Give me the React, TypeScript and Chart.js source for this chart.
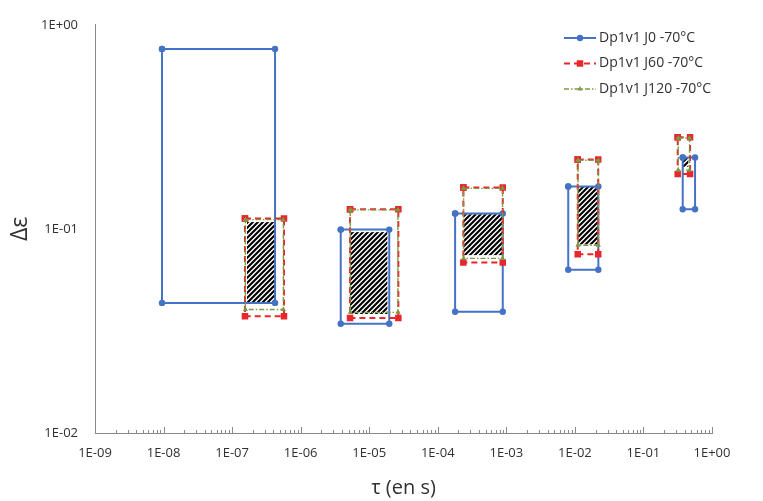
import React, { useEffect, useRef } from 'react';
import { Chart, registerables } from 'chart.js';

Chart.register(...registerables);

// ---------------- data ----------------
const seriesLabels = ['Dp1v1 J0 -70°C', 'Dp1v1 J60 -70°C', 'Dp1v1 J120 -70°C'];

// J0 boxes (tau in s, delta epsilon)
const j0TauMin = [9.5e-9, 3.84e-6, 1.79e-4, 8.0e-3, 0.374];
const j0TauMax = [4.23e-7, 1.96e-5, 8.87e-4, 2.2e-2, 0.566];
const j0EpsMin = [0.0434, 0.0343, 0.0393, 0.0631, 0.1248];
const j0EpsMax = [0.762, 0.0992, 0.119, 0.1615, 0.2236];

// J60 boxes
const j60TauMin = [1.54e-7, 5.25e-6, 2.36e-4, 1.1e-2, 0.316];
const j60TauMax = [5.71e-7, 2.66e-5, 8.87e-4, 2.19e-2, 0.479];
const j60EpsMin = [0.0373, 0.0366, 0.0684, 0.0752, 0.186];
const j60EpsMax = [0.1123, 0.1248, 0.1597, 0.2188, 0.281];

// J120 boxes
const j120TauMin = [1.56e-7, 5.3e-6, 2.38e-4, 1.11e-2, 0.322];
const j120TauMax = [5.6e-7, 2.62e-5, 8.8e-4, 2.2e-2, 0.47];
const j120EpsMin = [0.0403, 0.039, 0.0717, 0.0831, 0.194];
const j120EpsMax = [0.111, 0.124, 0.158, 0.217, 0.279];

// hatched (common) regions
const hatchTauMin = [1.65e-7, 5.25e-6, 2.38e-4, 1.1e-2, 0.376];
const hatchTauMax = [4.23e-7, 1.84e-5, 8.87e-4, 2.2e-2, 0.452];
const hatchEpsMin = [0.0434, 0.0383, 0.0744, 0.084, 0.2015];
const hatchEpsMax = [0.108, 0.0964, 0.118, 0.1615, 0.222];

// axis ticks (powers of ten)
const xTickExponents = [-9, -8, -7, -6, -5, -4, -3, -2, -1, 0];
const yTickExponents = [-2, -1, 0];
const minorMultipliers = [2, 3, 4, 5, 6, 7, 8, 9];

// ---------------- styles ----------------
const FONT = '"Open Sans", "Noto Sans", sans-serif';
const AXIS_COLOR = '#898989';
const TEXT_COLOR = '#303030';

type SeriesStyle = { color: string; width: number; dash: number[]; point: string; radius: number };
const seriesStyles: SeriesStyle[] = [
  { color: '#4472C4', width: 2, dash: [], point: 'circle', radius: 3.2 },
  { color: '#E8262B', width: 2, dash: [6, 4], point: 'rect', radius: 4.6 },
  { color: '#7C9A42', width: 1.4, dash: [5, 2, 1.5, 2], point: 'triangle', radius: 3 },
];

const seriesBoxes = [
  [j0TauMin, j0TauMax, j0EpsMin, j0EpsMax],
  [j60TauMin, j60TauMax, j60EpsMin, j60EpsMax],
  [j120TauMin, j120TauMax, j120EpsMin, j120EpsMax],
];

const fmtPow = (v: number) => {
  const e = Math.round(Math.log10(v));
  const a = Math.abs(e);
  return '1E' + (e < 0 ? '-' : '+') + (a < 10 ? '0' + a : String(a));
};

function boxPoints(t0: number, t1: number, e0: number, e1: number) {
  return [
    { x: t0, y: e1 },
    { x: t1, y: e1 },
    { x: t1, y: e0 },
    { x: t0, y: e0 },
    { x: t0, y: e1 },
  ];
}

function drawMarker(ctx: CanvasRenderingContext2D, kind: string, x: number, y: number, r: number) {
  ctx.beginPath();
  if (kind === 'circle') {
    ctx.arc(x, y, r, 0, Math.PI * 2);
  } else if (kind === 'rect') {
    const s = r * Math.SQRT1_2;
    ctx.rect(x - s, y - s, 2 * s, 2 * s);
  } else {
    let a = 0;
    ctx.moveTo(x + Math.sin(a) * r, y - Math.cos(a) * r);
    a += (2 * Math.PI) / 3;
    ctx.lineTo(x + Math.sin(a) * r, y - Math.cos(a) * r);
    a += (2 * Math.PI) / 3;
    ctx.lineTo(x + Math.sin(a) * r, y - Math.cos(a) * r);
    ctx.closePath();
  }
  ctx.fill();
}

function makeHatch(): CanvasPattern | string {
  const c = document.createElement('canvas');
  const n = 5;
  c.width = n;
  c.height = n;
  const g = c.getContext('2d');
  if (!g) return '#000';
  g.fillStyle = '#ffffff';
  g.fillRect(0, 0, n, n);
  g.strokeStyle = '#000000';
  g.lineWidth = 2.1;
  g.beginPath();
  g.moveTo(-1, n + 1);
  g.lineTo(n + 1, -1);
  g.moveTo(-1, 1);
  g.lineTo(1, -1);
  g.moveTo(n - 1, n + 1);
  g.lineTo(n + 1, n - 1);
  g.stroke();
  return g.createPattern(c, 'repeat') || '#000';
}

const hatchPlugin = {
  id: 'hatchAreas',
  beforeDatasetsDraw(chart: any) {
    const { ctx, scales } = chart;
    const xs = scales.x;
    const ys = scales.y;
    ctx.save();
    ctx.fillStyle = makeHatch();
    for (let i = 0; i < hatchTauMin.length; i++) {
      const x0 = xs.getPixelForValue(hatchTauMin[i]);
      const x1 = xs.getPixelForValue(hatchTauMax[i]);
      const y0 = ys.getPixelForValue(hatchEpsMax[i]);
      const y1 = ys.getPixelForValue(hatchEpsMin[i]);
      ctx.fillRect(x0, y0, x1 - x0, y1 - y0);
    }
    ctx.restore();
  },
};

const minorTickPlugin = {
  id: 'logTicks',
  afterDraw(chart: any) {
    const { ctx, scales, chartArea } = chart;
    const xs = scales.x;
    const bottom = chartArea.bottom;
    ctx.save();
    ctx.strokeStyle = AXIS_COLOR;
    ctx.lineWidth = 1;
    ctx.beginPath();
    xTickExponents.forEach((e) => {
      const base = Math.pow(10, e);
      const px = Math.round(xs.getPixelForValue(base)) + 0.5;
      ctx.moveTo(px, bottom);
      ctx.lineTo(px, bottom - 6);
      if (e < 0) {
        minorMultipliers.forEach((m) => {
          const p = Math.round(xs.getPixelForValue(m * base)) + 0.5;
          ctx.moveTo(p, bottom);
          ctx.lineTo(p, bottom - 3);
        });
      }
    });
    ctx.stroke();
    ctx.restore();
  },
};

const LEGEND_LINE_X0 = 564;
const LEGEND_LINE_X1 = 596;
const LEGEND_TEXT_X = 599;
const LEGEND_Y0 = 38;
const LEGEND_DY = 25.5;

const legendPlugin = {
  id: 'boxLegend',
  afterDraw(chart: any) {
    const ctx: CanvasRenderingContext2D = chart.ctx;
    ctx.save();
    seriesLabels.forEach((label, i) => {
      const st = seriesStyles[i];
      const y = LEGEND_Y0 + i * LEGEND_DY;
      ctx.strokeStyle = st.color;
      ctx.lineWidth = st.width;
      ctx.setLineDash(st.dash);
      ctx.beginPath();
      ctx.moveTo(LEGEND_LINE_X0, y);
      ctx.lineTo(LEGEND_LINE_X1, y);
      ctx.stroke();
      ctx.setLineDash([]);
      ctx.fillStyle = st.color;
      drawMarker(ctx, st.point, (LEGEND_LINE_X0 + LEGEND_LINE_X1) / 2, y, st.radius);
      ctx.fillStyle = TEXT_COLOR;
      ctx.font = '14px ' + FONT;
      ctx.textBaseline = 'middle';
      ctx.textAlign = 'left';
      ctx.fillText(label, LEGEND_TEXT_X, y);
    });
    ctx.restore();
  },
};

export default function App() {
  const ref = useRef<HTMLCanvasElement | null>(null);

  useEffect(() => {
    if (!ref.current) return;
    const datasets: any[] = [];
    seriesBoxes.forEach((arrs, s) => {
      const [t0, t1, e0, e1] = arrs;
      const st = seriesStyles[s];
      t0.forEach((_, i) => {
        datasets.push({
          label: seriesLabels[s],
          data: boxPoints(t0[i], t1[i], e0[i], e1[i]),
          showLine: true,
          borderColor: st.color,
          backgroundColor: st.color,
          borderWidth: st.width,
          borderDash: st.dash,
          pointStyle: st.point,
          pointRadius: st.radius,
          pointBackgroundColor: st.color,
          pointBorderColor: st.color,
          pointBorderWidth: 0,
          tension: 0,
          fill: false,
          order: 2 - s,
        });
      });
    });

    const chart = new Chart(ref.current, {
      type: 'scatter',
      data: { datasets },
      options: {
        animation: false,
        responsive: false,
        maintainAspectRatio: false,
        layout: { padding: { top: 17, right: 51, bottom: 0, left: 0 } },
        plugins: {
          legend: { display: false },
          tooltip: { enabled: false },
        },
        scales: {
          x: {
            type: 'logarithmic',
            position: 'bottom',
            min: 1e-9,
            max: 1,
            grid: { display: false, drawTicks: false },
            border: { display: true, color: AXIS_COLOR, width: 1 },
            ticks: {
              autoSkip: false,
              maxRotation: 0,
              padding: 12,
              color: TEXT_COLOR,
              font: { family: FONT, size: 13 },
              callback: (v: any) => fmtPow(Number(v)),
            },
            afterBuildTicks: (scale: any) => {
              scale.ticks = xTickExponents.map((e) => ({ value: Math.pow(10, e) }));
            },
            afterFit: (scale: any) => {
              scale.height = 68;
            },
            title: {
              display: true,
              text: 'τ (en s)',
              color: TEXT_COLOR,
              font: { family: FONT, size: 20 },
              padding: { top: 0, bottom: 1 },
            },
          },
          y: {
            type: 'logarithmic',
            position: 'left',
            min: 0.01,
            max: 1,
            grid: { display: false, drawTicks: false },
            border: { display: true, color: AXIS_COLOR, width: 1 },
            ticks: {
              autoSkip: false,
              padding: 17,
              color: TEXT_COLOR,
              font: { family: FONT, size: 13 },
              callback: (v: any) => fmtPow(Number(v)),
            },
            afterBuildTicks: (scale: any) => {
              scale.ticks = yTickExponents.map((e) => ({ value: Math.pow(10, e) }));
            },
            afterFit: (scale: any) => {
              scale.width = 95;
            },
            title: {
              display: true,
              text: 'Δε',
              color: TEXT_COLOR,
              font: { family: FONT, size: 23 },
              padding: { top: 7, bottom: 0 },
            },
          },
        },
      },
      plugins: [hatchPlugin, minorTickPlugin, legendPlugin],
    } as any);

    return () => chart.destroy();
  }, []);

  return (
    <div style={{ position: 'fixed', left: 0, top: 0, width: 763, height: 501, background: '#fff' }}>
      <canvas ref={ref} width={763} height={501} style={{ display: 'block' }} />
    </div>
  );
}
